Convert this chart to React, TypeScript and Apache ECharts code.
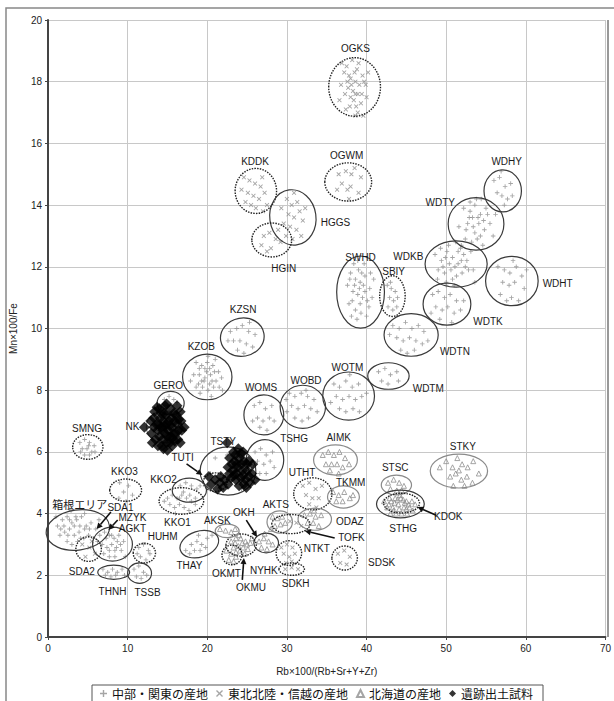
import React, { useEffect, useRef } from "react";
import * as echarts from "echarts";

// ---------- axis ticks ----------
const xTicks = [0, 10, 20, 30, 40, 50, 60, 70];
const yTicks = [0, 2, 4, 6, 8, 10, 12, 14, 16, 18, 20];

const seriesNames = ["中部・関東の産地", "東北北陸・信越の産地", "北海道の産地", "遺跡出土試料"];

// ---------- 中部・関東の産地 (+) ----------
const WDKB = [[48.6,12.4],[49.4,12.2],[50.1,12.5],[50.8,12.3],[51.5,12.1],[52.2,12.4],[49.0,11.9],[49.8,11.8],[50.6,11.9],[51.3,11.7],[52.0,11.8],[52.8,11.9],[50.3,12.7],[51.2,12.8],[49.3,12.6],[50.0,11.5],[51.0,11.4],[52.6,12.2],[53.4,11.9],[53.6,11.5],[48.9,11.6],[51.8,12.6],[49.6,12.0],[50.4,12.1],[51.1,12.0],[51.9,12.2],[50.8,11.6],[49.9,12.3],[52.4,12.0],[51.5,12.5]];
const WDTY = [[52.2,13.9],[53.0,13.8],[53.6,14.0],[54.3,13.7],[55.0,13.9],[52.7,13.4],[53.4,13.3],[54.1,13.4],[54.8,13.2],[55.5,13.4],[52.4,12.9],[53.2,12.8],[53.9,12.9],[54.6,12.7],[53.8,14.2],[51.6,13.3],[55.9,13.0],[52.9,13.6],[54.4,14.2],[53.1,12.5],[56.2,13.7],[51.9,12.7],[53.3,13.6],[54.0,13.6],[54.7,13.5],[53.6,13.1],[54.3,13.0],[52.5,13.2],[55.2,13.7],[53.0,14.1]];
const WDHY = [[56.0,14.8],[56.7,14.9],[57.4,14.6],[56.4,14.4],[57.0,14.3],[57.7,14.2],[58.1,14.7],[56.9,15.1],[57.3,14.0],[58.3,14.3]];
const WDHT = [[56.5,12.0],[57.3,11.9],[58.0,11.8],[58.8,12.0],[59.5,11.7],[57.1,11.5],[57.9,11.4],[58.6,11.5],[59.8,11.3],[56.8,11.1],[58.2,11.0],[59.1,10.9],[57.6,10.9],[60.1,11.9],[58.4,12.2]];
const WDTK = [[48.3,11.1],[49.0,11.2],[49.8,11.0],[50.5,11.1],[51.3,10.9],[48.7,10.7],[49.5,10.6],[50.2,10.7],[51.0,10.5],[51.8,10.6],[49.2,10.3],[50.7,10.2],[48.1,10.5],[52.2,10.9],[50.0,11.4]];
const WDTN = [[43.3,10.1],[44.1,10.0],[44.9,10.2],[45.7,10.0],[46.5,10.1],[47.2,9.9],[43.8,9.7],[44.6,9.6],[45.4,9.7],[46.2,9.6],[47.0,9.5],[44.3,9.3],[45.1,9.2],[46.0,9.3],[47.7,9.6],[42.9,9.8]];
const WDTM = [[41.5,8.6],[42.3,8.7],[43.0,8.5],[43.8,8.6],[41.9,8.3],[42.7,8.2],[44.0,8.3]];
const WOTM = [[35.9,8.2],[36.6,8.1],[37.4,8.3],[38.2,8.1],[39.0,8.2],[36.2,7.8],[37.0,7.7],[37.8,7.8],[38.6,7.7],[39.4,7.8],[36.6,7.4],[37.4,7.3],[38.3,7.4],[39.1,7.3],[37.9,8.5],[35.5,7.6],[40.0,7.9]];
const WOBD = [[30.3,7.9],[31.0,7.8],[31.8,7.9],[32.6,7.8],[33.4,7.7],[30.6,7.5],[31.4,7.4],[32.2,7.5],[33.0,7.4],[33.8,7.3],[31.0,7.1],[31.9,7.0],[32.7,7.1],[30.0,7.3],[32.4,8.0],[29.9,7.7]];
const WOMS = [[25.9,7.5],[26.6,7.6],[27.3,7.4],[28.1,7.5],[26.3,7.1],[27.0,7.0],[27.8,7.1],[26.6,6.8],[27.5,6.7],[28.4,7.0],[25.7,7.0]];
const SWHD = [[38.0,11.8],[38.6,11.6],[39.2,11.5],[39.8,11.7],[40.4,11.3],[38.3,11.2],[38.9,11.1],[39.5,11.0],[40.1,10.9],[37.8,10.8],[38.6,10.6],[39.3,10.5],[40.0,10.4],[39.0,11.9],[40.7,11.0],[37.6,11.4],[39.7,12.1],[38.4,12.1],[40.9,11.6],[38.8,10.3],[39.6,11.4],[38.1,10.4],[38.5,11.4],[39.1,11.3],[39.8,11.2],[38.2,10.9],[39.2,10.8],[40.3,10.7],[38.9,12.2],[39.4,11.8],[37.9,11.6],[40.5,11.8]];
const SBIY = [[42.6,11.4],[43.1,11.3],[43.6,11.2],[42.9,11.0],[43.4,10.9],[43.9,11.0],[42.7,10.7],[43.3,10.6],[43.8,10.7],[43.0,11.5]];
const KZSN = [[22.9,9.9],[23.7,10.0],[24.4,10.1],[25.2,9.9],[26.0,9.8],[23.3,9.6],[24.1,9.6],[24.9,9.5],[25.7,9.4],[23.8,9.3],[24.6,9.2],[22.6,9.6],[25.3,10.2]];
const KZOB = [[18.6,8.9],[19.3,8.8],[20.0,8.9],[20.7,8.8],[21.4,8.6],[18.3,8.5],[19.0,8.5],[19.7,8.4],[20.4,8.5],[21.1,8.3],[21.8,8.4],[18.6,8.1],[19.4,8.1],[20.1,8.0],[20.8,8.1],[19.7,8.7],[20.3,8.2],[19.1,7.9],[20.5,7.8],[17.9,8.3],[21.9,8.0],[20.1,9.1],[19.6,8.3],[20.9,8.6],[19.0,8.7],[20.3,8.7],[21.0,9.0],[19.3,8.3],[20.6,8.3],[21.5,8.1],[18.9,8.2],[19.9,8.6]];
const GERO = [[14.6,7.7],[15.2,7.8],[15.8,7.7],[15.0,7.5],[15.6,7.5],[16.2,7.6],[15.3,7.3],[15.9,7.3],[14.5,7.4]];
const SMNG = [[4.0,6.3],[4.6,6.4],[5.2,6.3],[5.8,6.2],[4.3,6.1],[4.9,6.1],[5.5,6.0],[4.6,5.9],[5.2,5.9],[5.9,6.0],[4.1,6.0],[5.1,6.2]];
const TSHG = [[26.0,6.0],[26.7,6.1],[27.4,5.9],[28.2,6.0],[26.3,5.7],[27.1,5.6],[27.9,5.7],[26.6,5.3],[27.4,5.3],[28.4,5.5],[25.8,5.5]];
const TSTYg = [[21.0,5.8],[22.5,5.9],[20.4,5.3],[24.3,4.8],[21.5,4.8]];
const KKO3 = [[9.0,5.0],[10.1,4.9],[9.5,4.7],[10.6,4.6],[8.9,4.5],[9.8,4.4]];
const KKO2 = [[16.6,4.9],[17.3,5.0],[18.0,4.9],[18.7,4.8],[17.0,4.7],[17.8,4.6],[18.5,4.5],[16.5,4.5],[19.1,4.9]];
const KKO1 = [[15.0,4.5],[15.6,4.6],[16.2,4.5],[16.8,4.6],[17.4,4.5],[18.0,4.4],[15.3,4.3],[15.9,4.2],[16.5,4.3],[17.1,4.2],[17.7,4.1],[16.0,4.0],[18.5,4.3],[14.6,4.4]];
const HAKONE = [[1.2,3.6],[1.8,3.8],[2.4,3.9],[3.0,3.7],[3.6,3.8],[4.2,3.9],[4.8,3.6],[5.4,3.7],[6.0,3.5],[1.5,3.3],[2.1,3.4],[2.7,3.5],[3.3,3.3],[3.9,3.4],[4.5,3.2],[5.1,3.3],[2.4,3.1],[3.0,3.0],[3.7,3.1],[6.4,3.8],[2.9,4.1],[1.0,3.9],[4.6,4.0],[5.7,3.2],[2.0,3.6],[2.7,3.8],[3.3,3.6],[4.0,3.6],[4.6,3.5],[5.2,3.5],[3.5,3.9],[1.6,3.5],[2.5,3.3],[4.1,3.2]];
const AGKT = [[6.5,3.3],[7.1,3.4],[7.7,3.3],[8.3,3.2],[8.9,3.3],[9.5,3.1],[6.8,3.0],[7.4,2.9],[8.0,3.0],[8.6,2.9],[9.2,2.8],[7.0,2.7],[7.7,2.6],[8.4,2.6],[9.7,2.6],[6.2,3.1],[7.3,3.2],[8.0,3.3],[8.7,3.1],[7.7,2.8],[8.4,2.8],[9.1,3.0]];
const HUHM = [[11.4,2.9],[12.0,3.0],[12.6,2.8],[11.6,2.6],[12.3,2.5],[12.8,2.7],[11.2,2.7]];
const THNH = [[6.9,2.2],[7.5,2.1],[8.1,2.2],[8.7,2.1],[9.3,2.2],[7.2,2.0],[7.9,1.95],[8.5,2.0],[9.6,2.0]];
const TSSB = [[10.8,2.2],[11.4,2.3],[12.0,2.1],[11.1,1.95],[11.7,1.9],[12.4,2.0]];
const THAY = [[17.3,2.8],[18.0,3.0],[18.7,3.1],[19.3,3.0],[20.0,3.2],[20.6,3.3],[18.4,2.8],[19.1,2.8],[19.8,2.9],[18.9,3.3],[17.8,2.7]];

// ---------- 東北北陸・信越の産地 (×) ----------
const OGKS = [[37.2,18.3],[38.0,18.1],[38.6,18.0],[39.1,17.9],[38.3,17.7],[37.7,17.8],[39.5,18.2],[38.8,18.4],[37.5,18.5],[38.4,17.4],[39.9,17.9],[36.8,17.9],[38.9,17.6],[37.9,17.2],[39.3,17.3],[38.2,18.7],[36.9,18.6],[40.2,18.3],[38.6,16.9],[39.6,16.9],[37.4,17.1],[38.1,17.9],[38.7,17.2],[36.6,17.4],[40.0,17.5],[37.8,18.2],[38.5,18.3],[39.0,18.6],[38.0,17.5],[39.4,17.6],[37.3,17.6],[38.6,17.6],[39.7,18.0],[37.6,18.0],[38.9,17.0]];
const OGWM = [[36.5,15.0],[37.4,15.1],[38.1,15.0],[39.3,14.9],[36.9,14.7],[37.6,14.5],[38.0,14.6],[39.0,14.4],[37.8,14.2],[36.3,14.5],[38.5,15.2]];
const KDDK = [[24.6,14.9],[25.3,14.8],[26.0,14.7],[26.7,14.6],[25.1,14.4],[25.8,14.3],[26.5,14.2],[27.2,14.4],[24.8,14.1],[26.1,13.9],[27.5,14.0],[25.5,14.0],[26.9,14.9],[24.3,14.5],[27.0,13.8]];
const HGGS = [[30.0,14.2],[30.6,14.0],[31.3,14.1],[30.2,13.7],[30.9,13.6],[31.6,13.8],[29.6,13.4],[30.4,13.3],[31.2,13.2],[32.0,13.5],[30.7,12.9],[31.8,13.0],[29.3,13.9],[30.9,14.4],[32.3,13.9],[29.9,13.0]];
const HGIN = [[27.1,13.0],[27.8,13.1],[28.6,12.9],[28.0,12.6],[29.2,12.8],[26.8,12.7],[28.9,13.2],[27.5,12.5]];
const SDA2 = [[4.3,3.0],[5.2,2.9],[5.9,2.7],[4.7,2.6],[5.5,3.1]];
const UTHT = [[32.0,4.9],[32.8,5.0],[33.6,4.8],[34.4,4.9],[32.4,4.6],[33.2,4.5],[34.0,4.5],[32.8,4.3],[33.7,4.2]];
const NTKT = [[29.3,2.9],[30.0,3.0],[30.7,2.9],[29.6,2.7],[30.3,2.6],[31.0,2.7],[29.9,2.4],[30.6,2.45]];
const SDKH = [[29.8,2.2],[30.6,2.25],[31.4,2.2]];
const SDSK = [[36.4,2.7],[37.2,2.8],[37.9,2.6],[36.7,2.4],[37.5,2.35]];
const TOFK = [[30.4,3.75],[31.2,3.7],[31.8,3.6]];

// ---------- 北海道の産地 (△) ----------
const STKY = [[49.2,5.5],[50.0,5.7],[50.8,5.5],[51.4,5.8],[52.0,5.6],[52.7,5.5],[53.4,5.7],[50.5,5.2],[51.2,5.3],[51.9,5.1],[52.6,5.2],[53.3,5.0],[51.6,5.4],[54.1,5.3],[50.9,4.9],[52.3,4.9]];
const STSC = [[42.7,5.0],[43.4,5.1],[44.1,5.0],[44.7,4.9],[43.0,4.8],[43.8,4.75],[44.4,4.75]];
const STHG = [[42.2,4.4],[42.9,4.5],[43.6,4.5],[44.3,4.5],[45.0,4.4],[45.7,4.4],[42.6,4.2],[43.3,4.2],[44.0,4.3],[44.7,4.2],[45.4,4.2],[46.1,4.3],[43.0,4.0],[43.7,4.0],[44.4,4.0],[45.1,4.0],[44.2,4.6],[45.8,4.1],[43.5,4.35],[44.8,4.35],[43.1,4.4],[43.9,4.45],[44.6,4.45],[45.3,4.3],[42.8,4.3],[44.1,4.15],[45.0,4.15],[43.4,4.1]];
const AIMK = [[34.5,5.9],[35.2,6.0],[35.9,5.9],[36.6,6.0],[37.3,5.8],[34.9,5.6],[35.6,5.6],[36.3,5.6],[37.0,5.5],[37.8,5.6],[35.4,5.4],[36.5,5.3]];
const TKMM = [[35.8,4.7],[36.5,4.6],[37.2,4.7],[37.9,4.5],[36.2,4.4],[37.0,4.4],[38.3,4.6]];
const ODAZ = [[32.2,3.95],[32.9,4.0],[33.6,3.9],[34.3,3.95],[32.6,3.7],[33.3,3.7],[34.0,3.6],[33.4,4.1]];
const AKTS = [[28.2,3.9],[28.8,3.85],[29.4,3.9],[28.5,3.6],[29.2,3.65],[29.8,3.7],[28.0,3.5]];
const NYHK = [[26.5,3.1],[27.1,3.2],[27.7,3.1],[28.2,3.0],[26.8,2.9],[27.5,2.85],[27.2,3.35]];
const OKH = [[23.0,3.1],[23.6,3.2],[24.2,3.2],[24.8,3.1],[25.4,3.05],[23.3,2.9],[23.9,2.95],[24.5,2.9],[25.1,2.85],[24.0,3.3],[23.6,2.75],[24.7,2.7],[25.6,3.2],[23.5,3.05],[24.4,3.05],[25.0,3.0],[24.1,2.8]];
const OKMT = [[22.4,2.8],[23.0,2.7],[23.6,2.6],[22.7,2.5],[23.3,2.45]];
const AKSK = [[21.6,3.5],[22.3,3.45],[23.0,3.4],[23.5,3.5]];

// ---------- 遺跡出土試料 (◆) ----------
const NK = [[12.1,6.8],[12.9,7.0],[13.0,6.6],[13.4,7.3],[13.6,6.9],[13.5,6.4],[14.0,7.4],[14.1,7.1],[14.2,6.8],[14.0,6.5],[14.3,6.2],[14.7,7.5],[14.8,7.2],[14.9,6.9],[14.7,6.6],[14.9,6.3],[15.4,7.4],[15.5,7.1],[15.6,6.8],[15.4,6.5],[15.6,6.2],[16.1,7.2],[16.2,6.9],[16.0,6.6],[16.3,6.4],[16.7,7.0],[16.8,6.7],[16.6,7.3],[13.3,7.1],[13.8,6.7],[14.5,7.0],[15.1,6.7],[15.2,7.0],[15.9,7.0],[14.4,6.4],[13.1,6.3],[15.0,6.05],[16.6,6.3],[17.1,6.8],[13.7,7.45],[14.5,6.1],[15.9,6.35],[14.9,7.55],[16.2,7.5],[13.9,6.9],[14.4,6.7],[15.0,6.5],[15.3,6.3],[15.8,6.6],[16.4,6.7],[14.6,7.25],[15.8,7.25],[13.8,6.2],[14.2,7.25],[15.6,6.45],[16.4,7.05],[13.3,6.8],[14.6,6.85],[15.3,6.85]];
const TSTYb = [[23.3,6.0],[23.9,6.1],[24.5,6.0],[22.8,5.8],[23.4,5.7],[24.0,5.8],[24.6,5.7],[25.2,5.7],[22.6,5.5],[23.2,5.4],[23.8,5.5],[24.4,5.4],[25.0,5.4],[25.6,5.3],[23.0,5.15],[23.6,5.1],[24.2,5.15],[24.8,5.1],[25.4,5.0],[26.0,5.1],[24.0,4.9],[24.9,4.85],[22.2,5.1],[21.6,5.0],[21.0,5.1],[20.5,4.95],[21.3,4.8],[22.0,4.85],[20.2,5.2],[25.7,5.6],[22.5,6.3],[23.7,5.3],[24.3,5.6],[23.5,5.9],[24.2,5.95],[23.1,5.6],[23.7,5.6],[25.0,5.6],[24.5,5.25],[23.4,5.25],[25.2,5.2],[22.8,5.3],[22.6,4.95],[24.6,4.95],[21.7,5.2]];

// ---------- cluster ellipses: [cx, cy, rx, ry] in data units ----------
const ellipseNames = ["OGKS","OGWM","KDDK","HGGS","HGIN","SWHD","SBIY","WDKB","WDTY","WDHY","WDHT","WDTK","WDTN","WDTM","WOTM","WOBD","WOMS","TSHG","KZSN","KZOB","GERO","NK","SMNG","TSTY","TUTI","AIMK","UTHT","TKMM","ODAZ","AKTS","TOFK","NTKT","SDKH","SDSK","NYHK","OKH","OKMT","AKSK","THAY","KKO1","KKO2","KKO3","HAKONE","AGKT","SDA2","HUHM","THNH","TSSB","STKY","STSC","STHG","KDOK"];
const ellipseData = [
  [38.5,17.83,3.25,0.95],[37.7,14.75,2.94,0.62],[26.1,14.46,2.6,0.73],[30.75,13.6,2.9,0.9],[28.1,12.87,2.5,0.55],
  [39.25,11.18,3.0,1.17],[43.25,11.05,1.6,0.66],[51.25,12.09,3.9,0.75],[53.75,13.39,3.5,0.85],[57.1,14.46,2.35,0.68],
  [58.25,11.54,3.3,0.8],[50.1,10.79,3.0,0.68],[45.6,9.79,3.4,0.69],[42.75,8.46,2.6,0.43],[37.75,7.81,3.25,0.78],
  [32.0,7.46,2.85,0.7],[27.1,7.2,2.5,0.65],[27.25,5.74,2.35,0.66],[24.4,9.72,2.75,0.62],[20.0,8.43,3.1,0.74],
  [15.4,7.58,1.7,0.38],[14.6,6.81,2.25,0.52],[5.0,6.16,1.9,0.4],[22.6,5.38,3.5,0.78],[21.0,5.02,1.5,0.3],
  [36.1,5.74,2.75,0.49],[33.25,4.64,2.4,0.52],[37.1,4.54,2.0,0.36],[33.5,3.82,2.1,0.36],[29.1,3.73,1.6,0.36],
  [30.5,3.66,2.4,0.31],[30.25,2.72,1.6,0.4],[30.6,2.2,1.6,0.2],[37.25,2.56,1.6,0.39],[27.4,3.05,1.55,0.32],
  [24.25,2.98,1.9,0.36],[23.1,2.66,1.25,0.32],[22.5,3.44,1.5,0.22],[19.0,3.01,2.5,0.42],[16.75,4.41,2.8,0.43],
  [17.75,4.76,2.15,0.39],[9.75,4.76,2.0,0.36],[3.75,3.47,4.0,0.65],[8.1,3.01,2.5,0.55],[5.1,2.85,1.6,0.4],
  [12.1,2.72,1.4,0.32],[8.25,2.1,2.0,0.23],[11.5,2.07,1.5,0.33],[51.6,5.38,3.6,0.55],[43.75,4.93,1.9,0.32],
  [44.25,4.31,3.0,0.45],[44.4,4.34,2.25,0.32]
];
const dottedSet = ["OGKS","OGWM","KDDK","HGIN","SBIY","SMNG","TUTI","UTHT","TOFK","NTKT","SDKH","SDSK","OKH","OKMT","KKO1","KKO3","SDA2","HUHM","KDOK"];
const lightSet = ["NK","AKSK","STKY","STSC","AIMK","TKMM","ODAZ","AKTS"];
const tiltDeg: Record<string, number> = { THAY: -18, HAKONE: -8, HGGS: -8, KZSN: -10 };

// ---------- labels: [x, y] in data units ----------
const labelTexts = ["OGKS","OGWM","KDDK","HGGS","HGIN","SWHD","SBIY","WDHY","WDTY","WDKB","WDHT","WDTK","WDTN","WDTM","WOTM","WOBD","WOMS","KZSN","KZOB","GERO","NK","SMNG","TSTY","TSHG","AIMK","TUTI","STKY","STSC","UTHT","TKMM","KKO3","KKO2","箱根エリア","SDA1","MZYK","AGKT","KKO1","AKTS","AKSK","OKH","ODAZ","STHG","KDOK","HUHM","TOFK","NTKT","THAY","SDSK","SDA2","OKMT","NYHK","SDKH","OKMU","THNH","TSSB"];
const labelPos = [
  [38.6,19.09],[37.5,15.62],[26.0,15.4],[36.1,13.42],[29.6,11.96],[39.25,12.29],[43.4,11.86],[57.6,15.4],[49.25,14.07],[45.25,12.32],
  [64.0,11.47],[55.25,10.24],[51.1,9.24],[47.75,8.04],[37.6,8.72],[32.4,8.3],[26.75,8.1],[24.5,10.6],[19.25,9.43],[15.1,8.14],
  [10.6,6.81],[4.9,6.77],[22.0,6.35],[30.9,6.42],[36.5,6.48],[16.9,5.83],[52.1,6.16],[43.6,5.48],[31.9,5.32],[38.0,5.02],
  [9.6,5.35],[14.5,5.12],[4.0,4.31],[9.1,4.21],[10.6,3.87],[10.6,3.53],[16.25,3.7],[28.6,4.31],[21.25,3.79],[24.6,4.02],
  [37.9,3.73],[44.6,3.53],[50.25,3.92],[14.4,3.27],[38.1,3.21],[33.75,2.88],[17.75,2.33],[41.9,2.4],[4.25,2.11],[22.4,2.07],
  [27.1,2.14],[31.1,1.72],[25.5,1.59],[8.1,1.49],[12.5,1.43]
];

// ---------- arrows: [x1, y1, x2, y2] (tail -> head) ----------
const arrows = [
  [17.4,5.61,19.4,5.25],
  [24.9,3.79,26.25,3.24],
  [24.4,1.85,24.6,2.56],
  [36.0,3.21,32.25,3.44],
  [48.75,3.95,46.4,4.21],
  [7.9,4.05,6.1,3.5],
  [8.75,3.79,7.6,3.47],
];

const kantoPts = [...WDKB,...WDTY,...WDHY,...WDHT,...WDTK,...WDTN,...WDTM,...WOTM,...WOBD,...WOMS,...SWHD,...SBIY,...KZSN,...KZOB,...GERO,...SMNG,...TSHG,...TSTYg,...KKO3,...KKO2,...KKO1,...HAKONE,...AGKT,...HUHM,...THNH,...TSSB,...THAY];
const tohokuPts = [...OGKS,...OGWM,...KDDK,...HGGS,...HGIN,...SDA2,...UTHT,...NTKT,...SDKH,...SDSK,...TOFK];
const hokkaidoPts = [...STKY,...STSC,...STHG,...AIMK,...TKMM,...ODAZ,...AKTS,...NYHK,...OKH,...OKMT,...AKSK];
const sitePts = [...NK,...TSTYb];

const PLUS = "path://M4,0H6V4H10V6H6V10H4V6H0V4H4Z";
const CROSS = "path://M1.4,0L5,3.6L8.6,0L10,1.4L6.4,5L10,8.6L8.6,10L5,6.4L1.4,10L0,8.6L3.6,5L0,1.4Z";
const GRAY = "#8f8f8f";

export default function App() {
  const ref = useRef<HTMLDivElement>(null);
  useEffect(() => {
    if (!ref.current) return;
    const chart = echarts.init(ref.current, null, { renderer: "svg" });
    const font = "Liberation Sans, Arial, sans-serif";
    const option: any = {
      animation: false,
      backgroundColor: "#fff",
      grid: { left: 48, right: 6, top: 20, bottom: 64 },
      xAxis: {
        type: "value", min: 0, max: 70, interval: 10,
        name: "Rb×100/(Rb+Sr+Y+Zr)", nameLocation: "middle", nameGap: 29,
        nameTextStyle: { fontFamily: font, fontSize: 10, color: "#222" },
        axisLine: { show: true, lineStyle: { color: "#444", width: 2 } },
        axisTick: { show: true, length: 3, lineStyle: { color: "#444" } },
        axisLabel: { fontFamily: font, fontSize: 10, color: "#222", margin: 6,
          formatter: (v: number) => (xTicks.includes(v) ? String(v) : "") },
        splitLine: { show: true, lineStyle: { color: "#c8c8c8", width: 1 } },
      },
      yAxis: {
        type: "value", min: 0, max: 20, interval: 2,
        name: "Mn×100/Fe", nameLocation: "middle", nameGap: 30, nameRotate: 90,
        nameTextStyle: { fontFamily: font, fontSize: 10, color: "#222" },
        axisLine: { show: true, lineStyle: { color: "#444", width: 2 } },
        axisTick: { show: true, length: 3, lineStyle: { color: "#444" } },
        axisLabel: { fontFamily: font, fontSize: 10, color: "#222", margin: 6,
          formatter: (v: number) => (yTicks.includes(v) ? String(v) : "") },
        splitLine: { show: true, lineStyle: { color: "#c8c8c8", width: 1 } },
      },
      legend: {
        data: seriesNames,
        left: 92, top: 685,
        borderColor: "#555", borderWidth: 1, padding: [2, 10, 4, 8],
        itemWidth: 7, itemHeight: 7, itemGap: 8,
        textStyle: { fontFamily: "Noto Sans CJK JP", fontSize: 12, lineHeight: 13, color: "#111" },
        selectedMode: false,
      },
      graphic: [
        { type: "rect", silent: true, shape: { x: 6, y: 8, width: 700, height: 800 },
          style: { fill: "none", stroke: "#888", lineWidth: 1.5 }, z: -1 },
        { type: "line", silent: true, shape: { x1: 608, y1: 20, x2: 608, y2: 637 },
          style: { stroke: "#777", lineWidth: 1.5 } },
      ],
      series: [
        {
          name: seriesNames[0], type: "scatter", data: kantoPts, symbol: PLUS, symbolSize: 4.5,
          itemStyle: { color: GRAY }, silent: true, z: 2,
        },
        {
          name: seriesNames[1], type: "scatter", data: tohokuPts, symbol: CROSS, symbolSize: 4.5,
          itemStyle: { color: GRAY }, silent: true, z: 2,
        },
        {
          name: seriesNames[2], type: "scatter", data: hokkaidoPts, symbol: "triangle", symbolSize: 5,
          itemStyle: { color: "rgba(255,255,255,0)", borderColor: GRAY, borderWidth: 1 }, silent: true, z: 2,
        },
        {
          name: seriesNames[3], type: "scatter", data: sitePts, symbol: "diamond", symbolSize: 11,
          itemStyle: { color: "#000" }, silent: true, z: 4,
        },
        {
          type: "custom", silent: true, z: 3, clip: false,
          data: ellipseData,
          renderItem: (params: any, api: any) => {
            const name = ellipseNames[params.dataIndex];
            const c = api.coord([api.value(0), api.value(1)]);
            const s = api.size([api.value(2), api.value(3)]);
            const dotted = dottedSet.includes(name);
            const light = lightSet.includes(name);
            const rot = ((tiltDeg[name] || 0) * Math.PI) / 180;
            return {
              type: "ellipse", x: c[0], y: c[1], rotation: -rot,
              shape: { cx: 0, cy: 0, rx: s[0], ry: s[1] },
              style: {
                fill: "none",
                stroke: dotted ? "#222" : light ? "#8a8a8a" : "#3a3a3a",
                lineWidth: dotted ? 1.4 : 1.2,
                lineDash: dotted ? [1.5, 1.2] : null,
              },
            };
          },
        },
        {
          type: "custom", silent: true, z: 5, clip: false,
          data: arrows,
          renderItem: (params: any, api: any) => {
            const a = api.coord([api.value(0), api.value(1)]);
            const b = api.coord([api.value(2), api.value(3)]);
            const ang = Math.atan2(b[1] - a[1], b[0] - a[0]);
            const L = 6, W = 3;
            const bx = b[0] - L * Math.cos(ang), by = b[1] - L * Math.sin(ang);
            const px = -Math.sin(ang) * W, py = Math.cos(ang) * W;
            return {
              type: "group",
              children: [
                { type: "line", shape: { x1: a[0], y1: a[1], x2: bx, y2: by }, style: { stroke: "#111", lineWidth: 1.6 } },
                { type: "polygon", shape: { points: [[b[0], b[1]], [bx + px, by + py], [bx - px, by - py]] }, style: { fill: "#111" } },
              ],
            };
          },
        },
        {
          type: "custom", silent: true, z: 6, clip: false,
          data: labelPos,
          renderItem: (params: any, api: any) => {
            const p = api.coord([api.value(0), api.value(1)]);
            const t = labelTexts[params.dataIndex];
            const cjk = /[^\x00-\x7F]/.test(t);
            return {
              type: "text", x: p[0], y: p[1],
              style: {
                text: t, align: "center", verticalAlign: "middle",
                fontFamily: cjk ? "Noto Sans CJK JP" : font, fontSize: cjk ? 11 : 10, fill: "#1a1a1a",
              },
            };
          },
        },
      ],
    };
    chart.setOption(option);
    return () => chart.dispose();
  }, []);
  return (
    <div
      ref={ref}
      style={{ position: "absolute", left: 0, top: 0, width: 614, height: 701 }}
    />
  );
}
